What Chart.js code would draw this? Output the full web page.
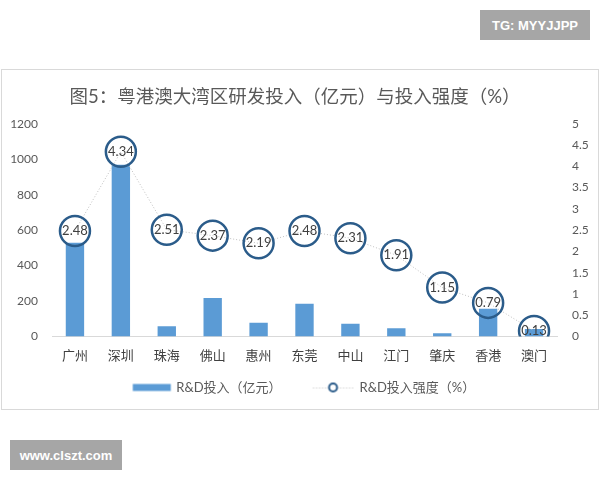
<!DOCTYPE html>
<html lang="zh-CN">
<head>
<meta charset="utf-8">
<title>粤港澳大湾区研发投入与投入强度</title>
<script src="https://cdn.jsdelivr.net/npm/chart.js@4.4.1/dist/chart.umd.min.js"></script>
<style>
  html, body { margin: 0; padding: 0; background: #fff; }
  #wrap { position: relative; width: 600px; height: 480px; overflow: hidden; }
  #frame { position: absolute; left: 1px; top: 69px; width: 596px; height: 339px; border: 1px solid #d9d9d9; }
  canvas { position: absolute; left: 0; top: 0; }
  .wm { position: absolute; background: #a6a6a6; color: #fff; font: bold 13px "Liberation Sans", Arial, sans-serif;
        display: flex; align-items: center; justify-content: center; }
  #wm1 { left: 480px; top: 10px; width: 110px; height: 30px; }
  #wm2 { left: 10px; top: 440px; width: 112px; height: 30px; }
</style>
</head>
<body>
<div id="wrap">
  <div id="frame"></div>
  <canvas id="chart" width="600" height="480"></canvas>
  <div class="wm" id="wm1">TG: MYYJJPP</div>
  <div class="wm" id="wm2">www.clszt.com</div>
</div>
<script>
// 数据
const categories = ['广州', '深圳', '珠海', '佛山', '惠州', '东莞', '中山', '江门', '肇庆', '香港', '澳门'];
const rdInvest = [528, 968, 58, 217, 77, 185, 72, 47, 19, 157, 42];          // 亿元
const rdIntensity = [2.48, 4.34, 2.51, 2.37, 2.19, 2.48, 2.31, 1.91, 1.15, 0.79, 0.13]; // %
const seriesNames = ['R&D投入（亿元）', 'R&D投入强度（%）'];
const leftTicks = ['0', '200', '400', '600', '800', '1000', '1200'];
const rightTicks = ['0', '0.5', '1', '1.5', '2', '2.5', '3', '3.5', '4', '4.5', '5'];
const chartTitle = '图5：粤港澳大湾区研发投入（亿元）与投入强度（%）';

const FONT = "Lato, 'Noto Sans CJK SC', sans-serif";
const BAR = '#5b9bd5';
const RING = '#2b5c8a';
const KEY_W = 55;   // 图例图标占位宽度
const IMG_W = 70;   // 图例图标画布宽度

// 图例小图标
function keyImage(kind) {
    const c = document.createElement('canvas');
    c.width = IMG_W;
    c.height = 14;
    const g = c.getContext('2d');
    if (kind === 'bar') {
        g.fillStyle = BAR;
        g.fillRect(25.5, 3.5, 38, 7);
    } else {
        g.strokeStyle = '#bfbfbf';
        g.lineWidth = 1;
        g.setLineDash([1, 2]);
        g.beginPath();
        g.moveTo(22.5, 7.5);
        g.lineTo(62.5, 7.5);
        g.stroke();
        g.setLineDash([]);
        g.beginPath();
        g.arc(42.5, 7, 4, 0, Math.PI * 2);
        g.fillStyle = '#fff';
        g.fill();
        g.lineWidth = 2;
        g.strokeStyle = RING;
        g.stroke();
    }
    return c;
}
const barKey = keyImage('bar');
const lineKey = keyImage('line');

// 圆圈里的数值
const valueLabels = {
    id: 'valueLabels',
    afterDatasetsDraw(chart) {
        const meta = chart.getDatasetMeta(1);
        const ctx = chart.ctx;
        ctx.save();
        ctx.font = '13px ' + FONT;
        ctx.fillStyle = '#404040';
        ctx.textAlign = 'center';
        ctx.textBaseline = 'middle';
        meta.data.forEach((pt, i) => {
            ctx.fillText(rdIntensity[i].toFixed(2), pt.x, pt.y);
        });
        ctx.restore();
    }
};

Chart.defaults.font.family = FONT;

new Chart(document.getElementById('chart'), {
    data: {
        labels: categories,
        datasets: [{
            type: 'bar',
            label: seriesNames[0],
            data: rdInvest,
            backgroundColor: BAR,
            yAxisID: 'y',
            barPercentage: 0.4,
            categoryPercentage: 1,
            order: 2
        }, {
            type: 'line',
            label: seriesNames[1],
            data: rdIntensity,
            yAxisID: 'y1',
            borderColor: '#bfbfbf',
            borderWidth: 1,
            borderDash: [1, 2],
            fill: false,
            tension: 0,
            pointRadius: 15,
            pointBorderWidth: 2.5,
            pointBorderColor: RING,
            pointBackgroundColor: 'rgba(255,255,255,0)',
            order: 1
        }]
    },
    options: {
        responsive: false,
        animation: false,
        layout: { padding: { top: 70, bottom: 76, left: -10, right: 0 } },
        plugins: {
            title: {
                display: true,
                text: chartTitle,
                color: '#595959',
                font: { size: 18.5, weight: 'normal' },
                padding: { top: 16, bottom: 15.5 }
            },
            legend: {
                position: 'bottom',
                onClick: null,
                labels: {
                    usePointStyle: true,
                    pointStyleWidth: KEY_W,
                    padding: 16.5,
                    color: '#595959',
                    font: { size: 13 },
                    generateLabels: () => [
                        { text: seriesNames[0], pointStyle: barKey, fillStyle: BAR, strokeStyle: BAR, lineWidth: 0, hidden: false, datasetIndex: 0, fontColor: '#595959' },
                        { text: seriesNames[1], pointStyle: lineKey, fillStyle: '#fff', strokeStyle: RING, lineWidth: 0, hidden: false, datasetIndex: 1, fontColor: '#595959' }
                    ]
                }
            },
            tooltip: { enabled: false }
        },
        scales: {
            x: {
                grid: { display: false, drawTicks: false },
                border: { display: true, color: '#d9d9d9' },
                ticks: { color: '#404040', font: { size: 13 }, padding: 12 },
                afterFit(s) { s.height = 28; }
            },
            y: {
                position: 'left',
                min: Number(leftTicks[0]),
                max: Number(leftTicks[leftTicks.length - 1]),
                grid: { display: false, drawTicks: false },
                border: { display: false },
                ticks: {
                    stepSize: 200,
                    color: '#595959',
                    font: { size: 12 },
                    padding: 14,
                    callback: (v, i) => leftTicks[i]
                },
                afterFit(s) { s.width = 62; }
            },
            y1: {
                position: 'right',
                min: Number(rightTicks[0]),
                max: Number(rightTicks[rightTicks.length - 1]),
                grid: { display: false, drawTicks: false },
                border: { display: false },
                ticks: {
                    stepSize: 0.5,
                    color: '#595959',
                    font: { size: 12 },
                    padding: 15,
                    callback: (v, i) => rightTicks[i]
                },
                afterFit(s) { s.width = 43; }
            }
        }
    },
    plugins: [valueLabels]
});
</script>
</body>
</html>
